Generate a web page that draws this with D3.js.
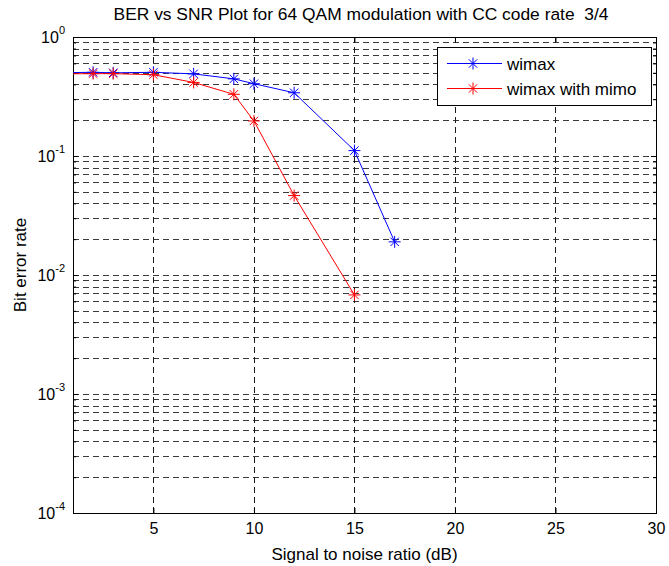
<!DOCTYPE html>
<html>
<head>
<meta charset="utf-8">
<script src="https://cdn.jsdelivr.net/npm/d3@7"></script>
<style>
    body { margin: 0; background: #fff; }
    #chart { width: 669px; height: 566px; }
    text { font-family: "Liberation Sans", Arial, sans-serif; fill: #000; }
</style>
</head>
<body>
<div id="chart"></div>
<script>

// data
let snr = [0, 2, 3, 5, 7, 9, 10, 12, 15, 17];
let berWimax = [0.5, 0.505, 0.5, 0.505, 0.49, 0.445, 0.405, 0.34, 0.111, 0.019];

let snrMimo = [0, 2, 3, 5, 7, 9, 10, 12, 15];
let berWimaxMimo = [0.49, 0.492, 0.492, 0.482, 0.415, 0.33, 0.197, 0.0465, 0.0068];

let seriesNames = ["wimax", "wimax with mimo"];
let seriesColors = ["#0000ff", "#ff0000"];

let xTicks = [5, 10, 15, 20, 25, 30];
let yExponents = [0, -1, -2, -3, -4];

let chartTitle = "BER vs SNR Plot for 64 QAM modulation with CC code rate  3/4";
let xTitle = "Signal to noise ratio (dB)";
let yTitle = "Bit error rate";


class BerPlot {

    constructor(parentElement) {
        this.parentElement = parentElement;
        this.initVis();
    }

    initVis() {
        let vis = this;

        vis.margin = { top: 37, right: 13, bottom: 53, left: 73 };
        vis.width = 669 - vis.margin.left - vis.margin.right;
        vis.height = 566 - vis.margin.top - vis.margin.bottom;

        vis.svg = d3.select(vis.parentElement).append("svg")
            .attr("width", 669)
            .attr("height", 566)
            .append("g")
            .attr("transform", "translate(" + vis.margin.left + "," + vis.margin.top + ")");

        vis.xScale = d3.scaleLinear()
            .domain([1, 30])
            .range([0, vis.width]);

        vis.yScale = d3.scaleLog()
            .domain([1e-4, 1])
            .range([vis.height, 0]);

        // minor values for the log axis: 2..9 x 10^k
        vis.minor = [];
        for (let k = -4; k < 0; k++) {
            for (let m = 2; m <= 9; m++) vis.minor.push(m * Math.pow(10, k));
        }
        vis.major = yExponents.map(e => Math.pow(10, e));

        vis.svg.append("clipPath")
            .attr("id", "plot-clip")
            .append("rect")
            .attr("width", vis.width)
            .attr("height", vis.height);

        vis.drawGrid();
        vis.drawAxes();
        vis.drawSeries();
        vis.drawLegend();
        vis.drawLabels();
    }

    drawGrid() {
        let vis = this;
        let grid = vis.svg.append("g").attr("class", "grid");

        // horizontal grid, major and minor
        grid.selectAll(".hgrid")
            .data(vis.major.concat(vis.minor).filter(v => v > 1e-4 && v < 1))
            .enter()
            .append("line")
            .attr("class", "hgrid")
            .attr("x1", 0)
            .attr("x2", vis.width)
            .attr("y1", d => Math.round(vis.yScale(d)) + 0.5)
            .attr("y2", d => Math.round(vis.yScale(d)) + 0.5)
            .attr("stroke", "#3a3a3a")
            .attr("stroke-dasharray", "6,4");

        grid.selectAll(".vgrid")
            .data(xTicks.filter(t => t < 30))
            .enter()
            .append("line")
            .attr("class", "vgrid")
            .attr("x1", d => Math.round(vis.xScale(d)) + 0.5)
            .attr("x2", d => Math.round(vis.xScale(d)) + 0.5)
            .attr("y1", 0)
            .attr("y2", vis.height)
            .attr("stroke", "#1a1a1a")
            .attr("stroke-dasharray", "6,4");
    }

    drawAxes() {
        let vis = this;

        vis.xAxis = d3.axisBottom(vis.xScale)
            .tickValues(xTicks)
            .tickSize(-5)
            .tickPadding(10)
            .tickFormat(d3.format("d"));

        let gx = vis.svg.append("g")
            .attr("class", "x-axis axis")
            .attr("transform", "translate(0," + vis.height + ")")
            .call(vis.xAxis);
        gx.select(".domain").remove();
        gx.selectAll("text").attr("font-size", 16).attr("dy", "0.71em");

        let gxTop = vis.svg.append("g")
            .call(d3.axisTop(vis.xScale).tickValues(xTicks).tickSize(-5).tickFormat(""));
        gxTop.select(".domain").remove();

        // y axis: major ticks with labels, minor ticks short
        vis.yAxis = d3.axisLeft(vis.yScale)
            .tickValues(vis.major)
            .tickSize(-5)
            .tickFormat("");
        let gy = vis.svg.append("g").attr("class", "y-axis axis").call(vis.yAxis);
        gy.select(".domain").remove();

        let gyMinor = vis.svg.append("g")
            .call(d3.axisLeft(vis.yScale).tickValues(vis.minor).tickSize(-3).tickFormat(""));
        gyMinor.select(".domain").remove();

        let gyR = vis.svg.append("g")
            .attr("transform", "translate(" + vis.width + ",0)")
            .call(d3.axisRight(vis.yScale).tickValues(vis.major).tickSize(-5).tickFormat(""));
        gyR.select(".domain").remove();
        let gyRMinor = vis.svg.append("g")
            .attr("transform", "translate(" + vis.width + ",0)")
            .call(d3.axisRight(vis.yScale).tickValues(vis.minor).tickSize(-3).tickFormat(""));
        gyRMinor.select(".domain").remove();

        vis.svg.selectAll(".tick line").attr("stroke", "#000");

        // 10^k labels
        let labels = vis.svg.append("g").attr("class", "y-labels")
            .selectAll("text")
            .data(yExponents)
            .enter()
            .append("text")
            .attr("x", -8)
            .attr("y", d => vis.yScale(Math.pow(10, d)) + 6)
            .attr("text-anchor", "end")
            .attr("font-size", 16);
        labels.append("tspan").text("10");
        labels.append("tspan")
            .attr("dy", -9)
            .attr("font-size", 11)
            .text(d => d);

        // box
        vis.svg.append("rect")
            .attr("x", 0.5)
            .attr("y", 0.5)
            .attr("width", vis.width)
            .attr("height", vis.height)
            .attr("fill", "none")
            .attr("stroke", "#000");
    }

    asterisk(g, color) {
        let s = 6, d = 4.2;
        g.append("path")
            .attr("d", "M" + (-s) + ",0H" + s + "M0," + (-s) + "V" + s +
                "M" + (-d) + "," + (-d) + "L" + d + "," + d +
                "M" + (-d) + "," + d + "L" + d + "," + (-d))
            .attr("stroke", color)
            .attr("stroke-width", 1)
            .attr("fill", "none");
    }

    drawSeries() {
        let vis = this;
        let series = [
            { name: seriesNames[0], color: seriesColors[0], values: snr.map((x, i) => ({ x: x, y: berWimax[i] })) },
            { name: seriesNames[1], color: seriesColors[1], values: snrMimo.map((x, i) => ({ x: x, y: berWimaxMimo[i] })) }
        ];

        let line = d3.line()
            .x(d => vis.xScale(d.x))
            .y(d => vis.yScale(d.y));

        let plot = vis.svg.append("g").attr("clip-path", "url(#plot-clip)");

        series.forEach(s => {
            plot.append("path")
                .datum(s.values)
                .attr("d", line)
                .attr("fill", "none")
                .attr("stroke", s.color)
                .attr("stroke-width", 1);

            plot.selectAll(".m-" + s.name.replace(/ /g, ""))
                .data(s.values)
                .enter()
                .append("g")
                .attr("transform", d => "translate(" + vis.xScale(d.x) + "," + vis.yScale(d.y) + ")")
                .each(function () { vis.asterisk(d3.select(this), s.color); });
        });
    }

    drawLegend() {
        let vis = this;
        let lg = vis.svg.append("g")
            .attr("transform", "translate(" + (437 - vis.margin.left) + "," + (47 - vis.margin.top) + ")");

        lg.append("rect")
            .attr("x", 0.5)
            .attr("y", 0.5)
            .attr("width", 214)
            .attr("height", 58)
            .attr("fill", "#fff")
            .attr("stroke", "#000");

        seriesNames.forEach((name, i) => {
            let y = 16.5 + i * 25;
            lg.append("line")
                .attr("x1", 10).attr("x2", 65)
                .attr("y1", y).attr("y2", y)
                .attr("stroke", seriesColors[i]);
            let m = lg.append("g").attr("transform", "translate(36," + y + ")");
            vis.asterisk(m, seriesColors[i]);
            lg.append("text")
                .attr("x", 70)
                .attr("y", y + 6)
                .attr("font-size", 17)
                .text(name);
        });
    }

    drawLabels() {
        let vis = this;
        vis.svg.append("text")
            .attr("x", 361 - vis.margin.left)
            .attr("y", 20 - vis.margin.top)
            .attr("text-anchor", "middle")
            .attr("font-size", 17.4)
            .style("white-space", "pre")
            .text(chartTitle);

        vis.svg.append("text")
            .attr("x", vis.width / 2)
            .attr("y", vis.height + 47)
            .attr("text-anchor", "middle")
            .attr("font-size", 17)
            .text(xTitle);

        vis.svg.append("text")
            .attr("transform", "translate(" + (-47) + "," + (vis.height / 2 - 10) + ")rotate(-90)")
            .attr("text-anchor", "middle")
            .attr("font-size", 17)
            .text(yTitle);
    }
}

new BerPlot(document.getElementById("chart"));
</script>
</body>
</html>
